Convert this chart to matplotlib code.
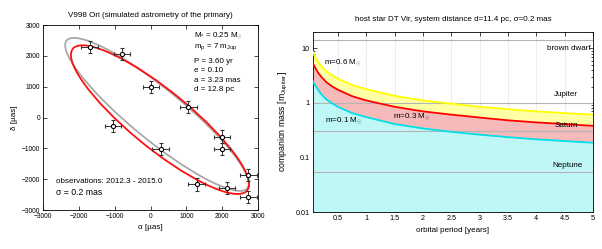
import matplotlib
matplotlib.use("Agg")
import matplotlib.pyplot as plt
from matplotlib.patches import Ellipse
from matplotlib.ticker import MultipleLocator, LogLocator, NullFormatter, FuncFormatter

plt.rcParams['font.family'] = ['Liberation Sans', 'DejaVu Sans']
plt.rcParams['mathtext.fontset'] = 'custom'
plt.rcParams['mathtext.rm'] = 'Liberation Sans'
plt.rcParams['mathtext.it'] = 'Liberation Sans:italic'
plt.rcParams['mathtext.bf'] = 'Liberation Sans:bold'

# left panel: simulated astrometry (micro-arcsec)
obs_ra = [-1700, -800, 20, 1060, -1050, 280, 2000, 2000, 2730, 1290, 2140, 2730]
obs_dec = [2280, 2050, 980, 330, -270, -1020, -620, -1020, -1870, -2170, -2280, -2570]
err_ra = 230
err_dec = 200

# orbit ellipses: centre, semi-major, semi-minor, angle
true_orbit = dict(cx=265, cy=-70, a=3350, b=880, ang=-44.0)
fit_orbit = dict(cx=180, cy=100, a=3480, b=780, ang=-44.0)

# right panel: detection limits vs orbital period
period = [0.06, 0.1, 0.15, 0.2, 0.3, 0.4, 0.5, 0.75, 1, 1.5, 2, 2.5, 3, 3.5, 4, 4.5, 5]
m06 = [8.6, 6.9, 5.7, 4.8, 3.8, 3.2, 2.78, 2.13, 1.78, 1.35, 1.11, 0.97, 0.85, 0.77, 0.70, 0.65, 0.61]
m03 = [5.3, 4.4, 3.6, 3.05, 2.38, 2.0, 1.74, 1.33, 1.11, 0.85, 0.70, 0.61, 0.54, 0.48, 0.44, 0.41, 0.38]
m01 = [2.5, 2.1, 1.73, 1.47, 1.15, 0.98, 0.85, 0.65, 0.55, 0.41, 0.34, 0.295, 0.262, 0.236, 0.215, 0.2, 0.186]
planet_names = ["brown dwarf", "Jupiter", "Saturn", "Neptune"]
planet_mass = [14, 1.0, 0.3, 0.054]

fs = 5.8
fig = plt.figure(figsize=(6.02, 2.49), dpi=100)

# ---------- left ----------
ax = fig.add_axes([43/602, 1-210/249, 215/602, 185/249])
for orb, col in [(fit_orbit, '#a8a8a8'), (true_orbit, '#ff1010')]:
    ax.add_patch(Ellipse((orb['cx'], orb['cy']), 2*orb['a'], 2*orb['b'], angle=orb['ang'],
                         fill=False, ec=col, lw=1.3))
ax.errorbar(obs_ra, obs_dec, xerr=err_ra, yerr=err_dec, fmt='o', ms=3, mfc='white',
            mec='black', mew=0.8, ecolor='#333333', elinewidth=0.7, capsize=1.2, capthick=0.7)
ax.set_xlim(-3000, 3000)
ax.set_ylim(-3000, 3000)
ax.xaxis.set_major_locator(MultipleLocator(1000))
ax.yaxis.set_major_locator(MultipleLocator(1000))
ax.tick_params(direction='in', top=True, right=True, labelsize=4.8, length=3, width=0.5, pad=2)
for s in ax.spines.values():
    s.set_linewidth(0.6)
ax.set_title("V998 Ori (simulated astrometry of the primary)", fontsize=fs, pad=6)
ax.set_xlabel("α [µas]", fontsize=fs, labelpad=3)
ax.set_ylabel("δ [µas]", fontsize=fs, labelpad=3)

txt = [(2643, r"M$_{*}$ = 0.25 M$_{\odot}$"), (2297, r"m$_{\rm p}$ = 7 m$_{\rm Jup}$"),
       (1810, "P = 3.60 yr"), (1518, "e = 0.10"), (1216, "a = 3.23 mas"), (924, "d = 12.8 pc")]
for yv, t in txt:
    ax.text(1223, yv, t, fontsize=fs, va='center', ha='left')
ax.text(-2637, -2082, "observations: 2012.3 - 2015.0", fontsize=fs, va='center')
ax.text(-2637, -2439, "σ = 0.2 mas", fontsize=fs + 0.5, va='center')

# ---------- right ----------
bx = fig.add_axes([313/602, 1-212/249, 280/602, 180/249])
bx.set_yscale('log')
bx.set_xlim(0.06, 5)
bx.set_ylim(0.01, 20)
bx.grid(axis='x', color='#e4e4e4', lw=0.5, zorder=0)
bx.fill_between(period, 0.001, m01, color='#bff7f7', lw=0, zorder=1)
bx.fill_between(period, m01, m03, color='#f7baba', lw=0, zorder=1)
bx.fill_between(period, m03, m06, color='#ffffa6', lw=0, zorder=1)
for pm in planet_mass:
    bx.axhline(pm, color='#b4b4b4', lw=0.8, zorder=2)
bx.plot(period, m06, color='#ffff00', lw=1.3, zorder=3)
bx.plot(period, m03, color='#ff0000', lw=1.3, zorder=3)
bx.plot(period, m01, color='#00e0e8', lw=1.3, zorder=3)

lab_pos = [(4.95, 10.0), (4.73, 1.42), (4.73, 0.387), (4.82, 0.072)]
for name, (px, py) in zip(planet_names, lab_pos):
    bx.text(px, py, name, fontsize=fs, ha='right', va='center', zorder=4)
bx.text(0.26, 5.45, r"m=0.6 M$_{\odot}$", fontsize=fs, va='center', zorder=4)
bx.text(0.27, 0.48, r"m=0.1 M$_{\odot}$", fontsize=fs, va='center', zorder=4)
bx.text(1.48, 0.55, r"m=0.3 M$_{\odot}$", fontsize=fs, va='center', zorder=4)

bx.xaxis.set_major_locator(MultipleLocator(0.5))
bx.xaxis.set_major_formatter(FuncFormatter(lambda v, p: f"{v:g}"))
bx.yaxis.set_major_locator(LogLocator(base=10, numticks=10))
bx.yaxis.set_minor_locator(LogLocator(base=10, subs=range(2, 10), numticks=20))
bx.yaxis.set_minor_formatter(NullFormatter())
bx.yaxis.set_major_formatter(FuncFormatter(lambda v, p: f"{v:g}"))
bx.tick_params(which='both', direction='in', top=True, right=True, labelsize=5.2, width=0.5, pad=2.5)
bx.tick_params(which='major', length=3)
bx.tick_params(which='minor', length=1.5)
for s in bx.spines.values():
    s.set_linewidth(0.6)
bx.set_axisbelow(True)
bx.set_title("host star DT Vir, system distance d=11.4 pc, σ=0.2 mas", fontsize=fs, pad=8)
bx.set_xlabel("orbital period [years]", fontsize=fs, labelpad=3)
bx.set_ylabel(r"companion mass [m$_{\rm Jupiter}$]", fontsize=fs + 0.5, labelpad=4)

fig.savefig("out.png", dpi=100)
